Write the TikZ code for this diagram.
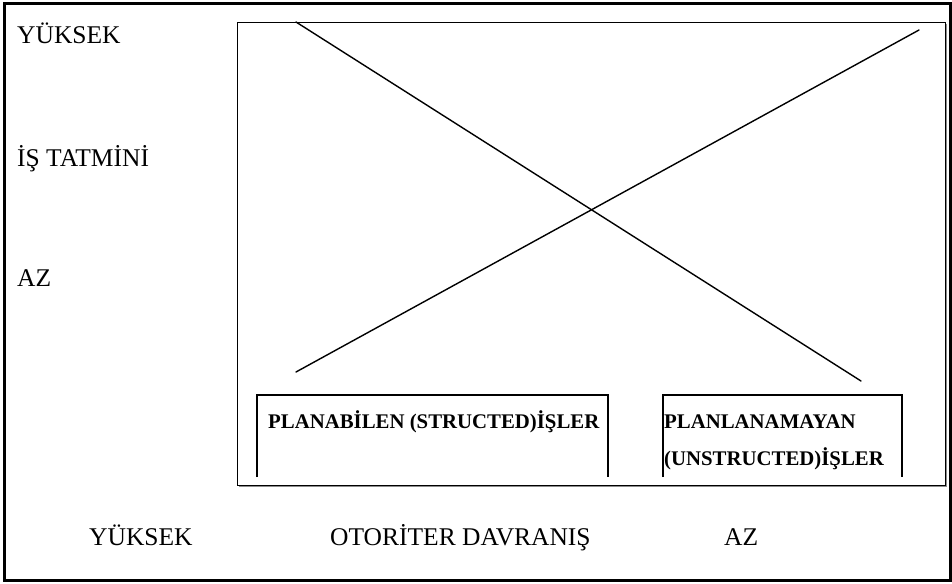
\documentclass[tikz,border=0pt]{standalone}
\usepackage{fontspec}
\setmainfont{Liberation Serif}
\usetikzlibrary{calc}
\usetikzlibrary{positioning}
\tikzstyle{sidelabel} = [anchor=base west, inner sep=0, font=\fontsize{25.5}{30}\selectfont]
\tikzstyle{boxlabel} = [anchor=base west, inner sep=0, align=left, font=\bfseries\fontsize{20.8}{37}\selectfont]
\tikzstyle{boxline} = [line width=2pt]
\tikzstyle{crossline} = [line width=1.4pt, line cap=round]

\begin{document}
\begin{tikzpicture}[x=1pt, y=-1pt]
\useasboundingbox (0,0) rectangle (952,583);
\draw[line width=2.2pt] (4.5,3.5) rectangle (950.5,580.5);

% chart frame with its grey shadow
\coordinate (frameTL) at (237,22);
\coordinate (frameBR) at (945,485);
\fill[black!45] ($(frameTL)+(2,2)$) rectangle ($(frameBR)+(2,2)$);
\draw[fill=white, line width=0.9pt] (frameTL) rectangle (frameBR);

% the two lines
\coordinate (highStart) at (296,22);
\coordinate (highEnd) at (861,381);
\coordinate (lowStart) at (296,372);
\coordinate (lowEnd) at (919,30);
\draw[crossline] (highStart) -- (highEnd);
\draw[crossline] (lowStart) -- (lowEnd);

% boxes, open at the bottom
\coordinate (planTL) at (257,395);
\coordinate (planTR) at (608,395);
\coordinate (unplanTL) at (663,395);
\coordinate (unplanTR) at (902,395);
\draw[boxline] ($(planTL)+(0,82)$) -- (planTL) -- (planTR) -- ($(planTR)+(0,82)$);
\draw[boxline] ($(unplanTL)+(0,82)$) -- (unplanTL) -- (unplanTR) -- ($(unplanTR)+(0,82)$);
\node[boxlabel] (plan) at (268,428) {PLANABİLEN (STRUCTED)İŞLER};
\node[boxlabel] (unplan) at (664,465) {PLANLANAMAYAN\\(UNSTRUCTED)İŞLER};

% axis words
\node[sidelabel] (yHigh) at (17,44) {YÜKSEK};
\node[sidelabel] (yName) at (17,166) {İŞ TATMİNİ};
\node[sidelabel] (yLow) at (17,286) {AZ};
\node[sidelabel] (xHigh) at (89,545) {YÜKSEK};
\node[sidelabel] (xName) at (330,545) {OTORİTER DAVRANIŞ};
\node[sidelabel] (xLow) at (724,545) {AZ};
\end{tikzpicture}
\end{document}
